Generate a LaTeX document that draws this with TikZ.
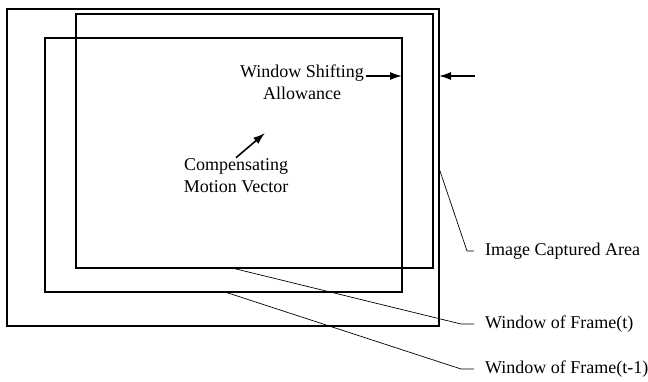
\documentclass[tikz,border=0pt]{standalone}
\usepackage{fontspec}
\setmainfont{Liberation Serif}
\usetikzlibrary{arrows.meta, positioning}

\begin{document}
\begin{tikzpicture}[x=1pt,y=-1pt,
    area/.style={line width=1.1pt},
    leader/.style={line width=0.7pt, shorten >=5pt},
    gaparrow/.style={line width=1.6pt, -{Latex[length=12pt,width=8pt]}},
    lbl/.style={font=\fontsize{18}{22}\selectfont, align=center, inner sep=0pt},
    note/.style={font=\fontsize{18}{22}\selectfont, anchor=west, inner sep=6pt}]
    \useasboundingbox (0,0) rectangle (648,382);

    % captured area and the two windows
    \draw[area] (7,9) rectangle (439,326);
    \draw[area] (76,14) rectangle (433,268);
    \draw[area] (45,38) rectangle (402,292);

    % texts inside
    \node[lbl] (wsa) at (302,82) {Window Shifting\\Allowance};
    \node[lbl] (cmv) at (236,176) {Compensating\\Motion Vector};

    \coordinate (wl) at (402,76);
    \coordinate (wr) at (439,76);
    \coordinate (wfree) at (475,76);
    \coordinate (mvtip) at (265,133);
    \draw[gaparrow] ([xshift=2pt]wsa.east |- wl) -- (wl);
    \draw[gaparrow] (wfree) -- (wr);
    \draw[gaparrow] ([yshift=1pt]cmv.north) -- (mvtip);

    % texts outside, with leaders
    \node[note] (img) at (479,251) {Image Captured Area};
    \node[note] (wt) at (479,324) {Window of Frame(t)};
    \node[note] (wt1) at (479,369) {Window of Frame(t-1)};

    \coordinate (imgedge) at (439,168);
    \coordinate (wtedge) at (232,268);
    \coordinate (wt1edge) at (225,292);
    \draw[leader] (imgedge) -- (467,251) -- (img.west);
    \draw[leader] (wtedge) -- (461,324) -- (wt.west);
    \draw[leader] (wt1edge) -- (461,369) -- (wt1.west);
\end{tikzpicture}
\end{document}
